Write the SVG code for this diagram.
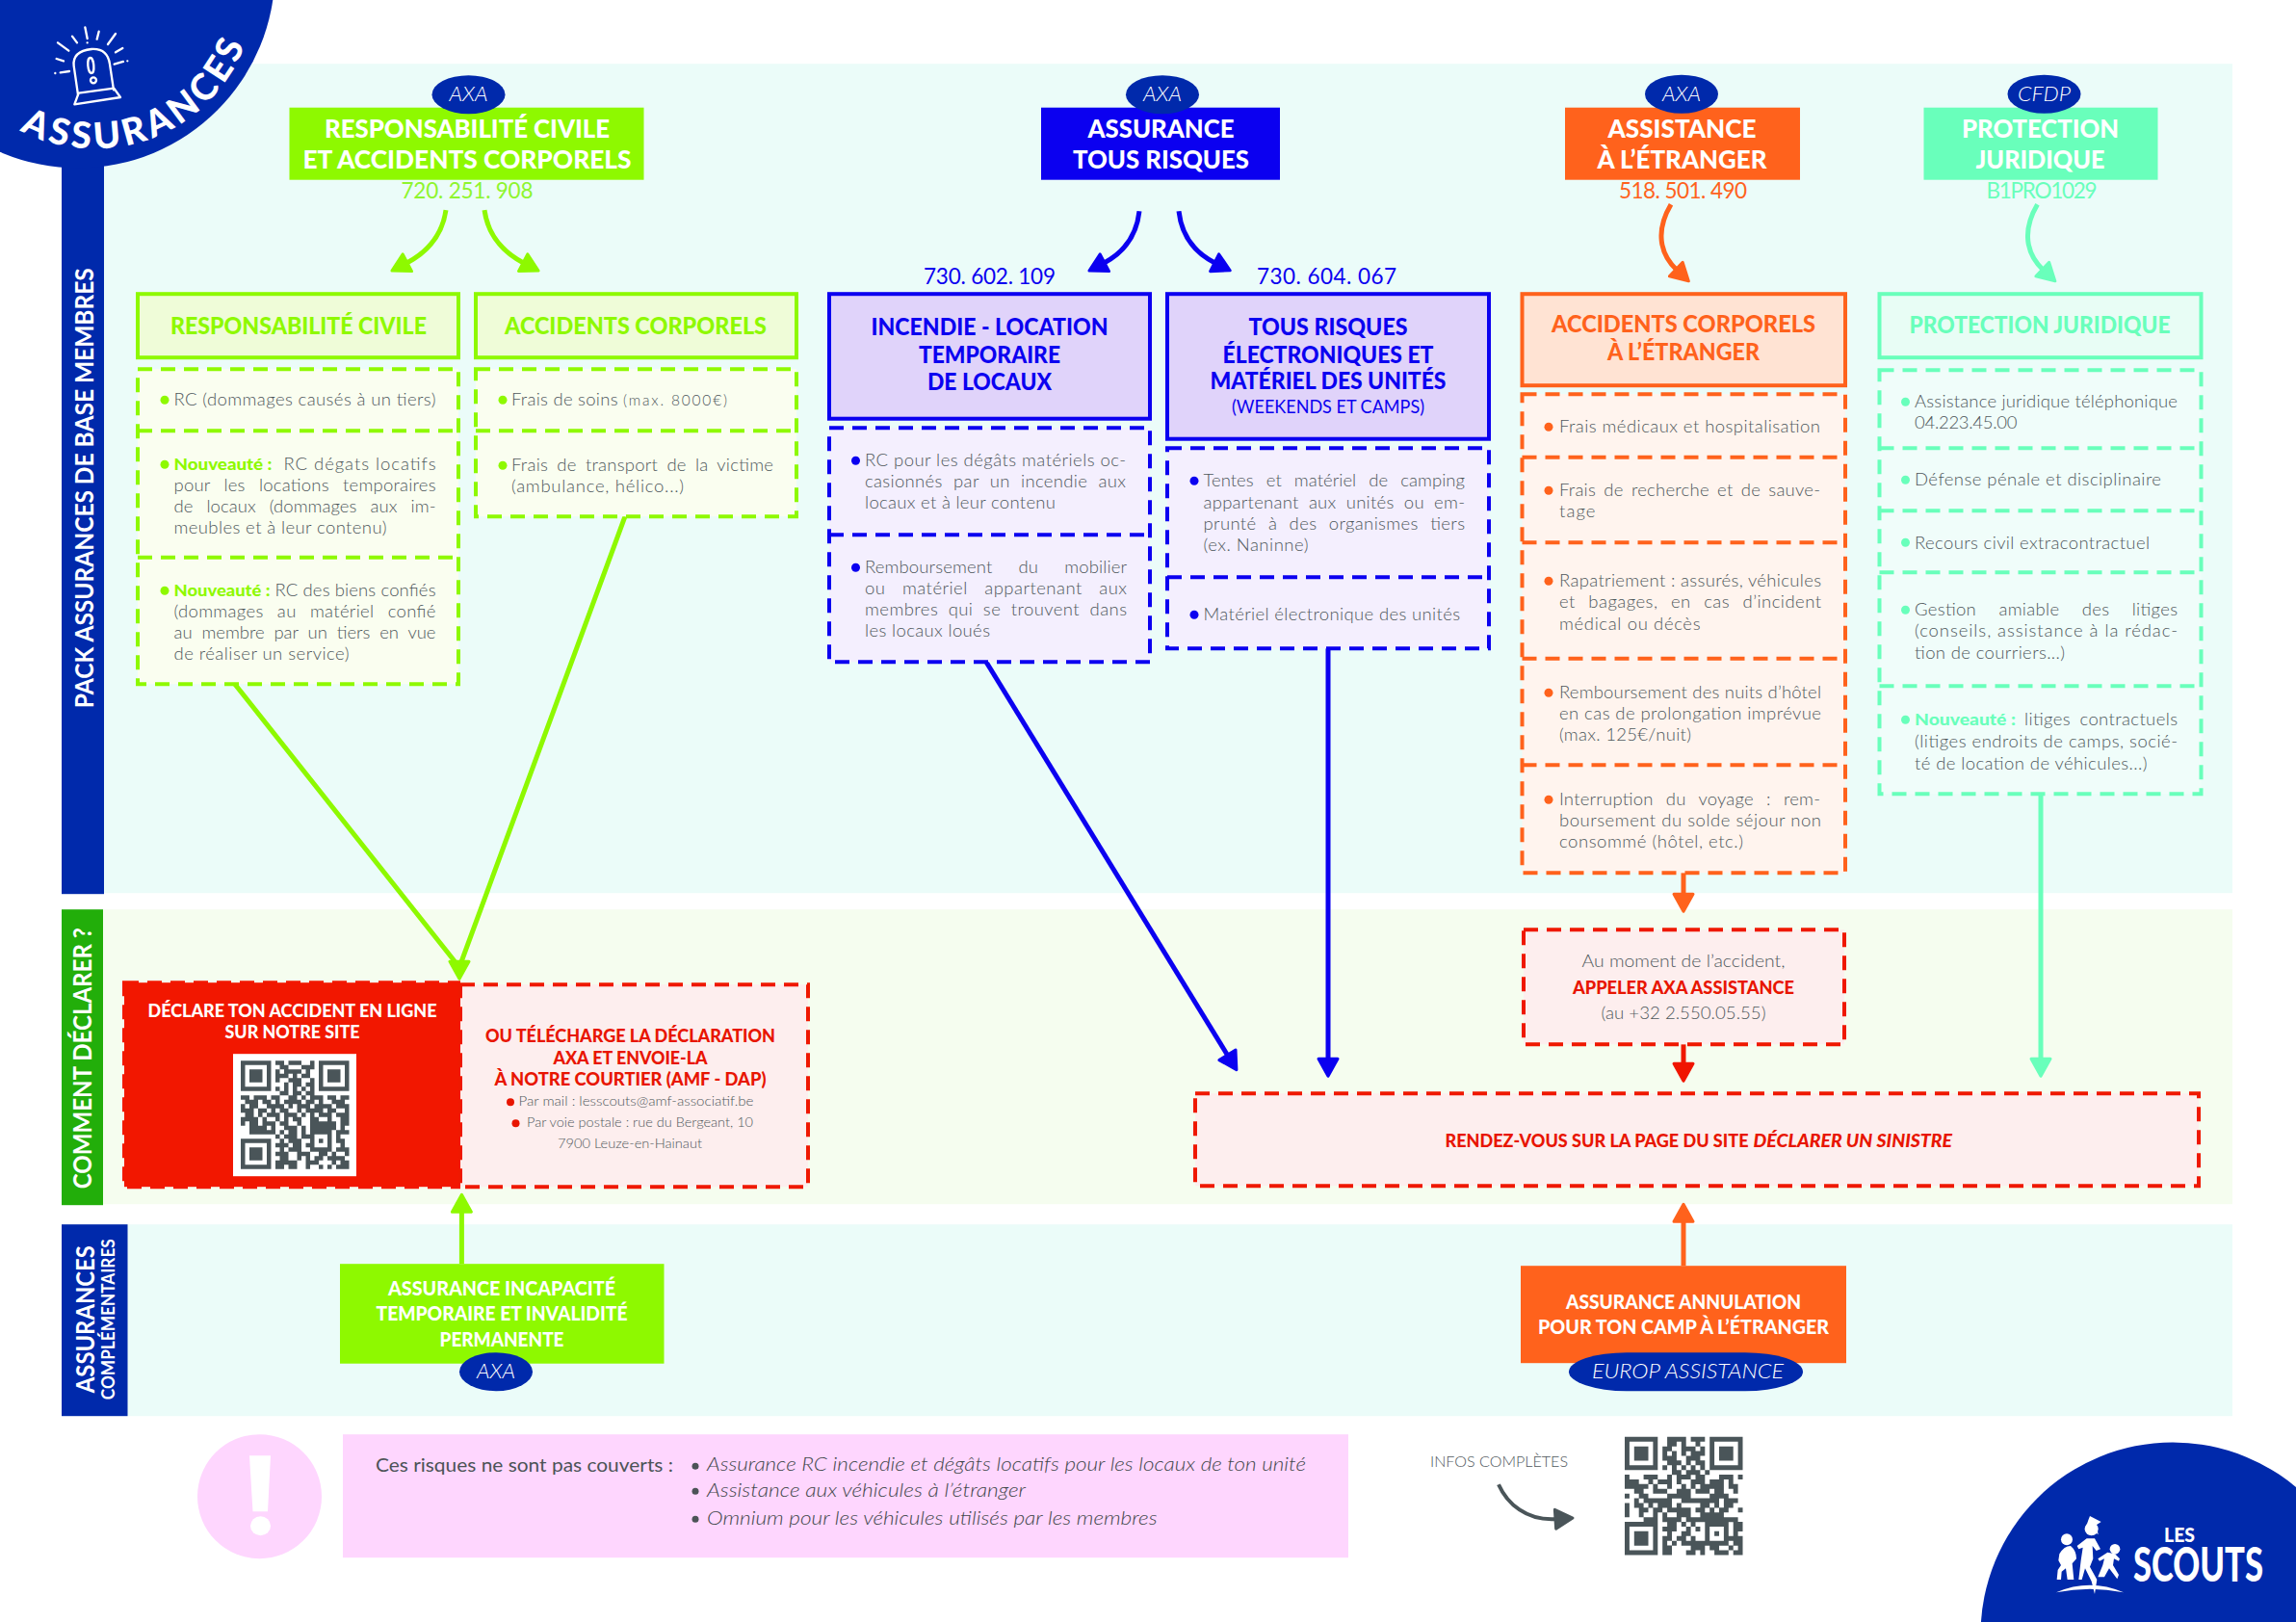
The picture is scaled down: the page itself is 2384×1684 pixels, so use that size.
<svg xmlns="http://www.w3.org/2000/svg" xmlns:xlink="http://www.w3.org/1999/xlink" width="2384" height="1684" viewBox="0 0 2384 1684">
<style>
text{font-family:Lato,"Liberation Sans",sans-serif}
.b{font-size:18.5px;font-weight:300;fill:#4f585c}
.bb{font-size:17.5px;font-weight:900}
.h{font-size:27px;font-weight:900;fill:#fff;text-anchor:middle;transform:translateY(-1.2px)}
.s{font-size:24px;font-weight:900;text-anchor:middle;transform:translateY(-1px)}
.n{font-size:22.5px;font-weight:400;text-anchor:middle}
.p{font-size:21px;font-style:italic;font-weight:300;fill:#fff;text-anchor:middle}
.v{font-size:27px;font-weight:700;fill:#fff}
.c{font-size:18.5px;font-weight:900;text-anchor:middle}
.e{font-size:14.5px;font-weight:300;fill:#4f585c}
.m{font-size:20px;fill:#4c5357}
.mi{font-size:20px;font-style:italic;font-weight:300;fill:#3f464a}
.pill{fill:#0029ab}
.g{fill:#8ef900}
.bl{fill:#0b00f0}.o{fill:#ff621c}.mt{fill:#69ffbb}.r{fill:#e81500}
.dash{stroke-width:4;stroke-dasharray:15 9;fill:none}
.solid{stroke-width:4}
.gl{stroke:#8ef900}.bll{stroke:#0b00f0}.ol{stroke:#ff621c}.ml{stroke:#69ffbb}.rl{stroke:#ef1800}
.cn{fill:none;stroke-width:5}
.qr{fill:none;stroke:#4a5559;stroke-width:1.03}
</style>
<defs>
<marker id="a-green" markerUnits="userSpaceOnUse" markerWidth="24" markerHeight="28" viewBox="0 0 24 28" refX="3" refY="14" orient="auto"><path d="M2 4L20 14L2 24Z" fill="#8ef900" stroke="#8ef900" stroke-width="3" stroke-linejoin="round"/></marker>
<marker id="a-blue" markerUnits="userSpaceOnUse" markerWidth="24" markerHeight="28" viewBox="0 0 24 28" refX="3" refY="14" orient="auto"><path d="M2 4L20 14L2 24Z" fill="#0b00f0" stroke="#0b00f0" stroke-width="3" stroke-linejoin="round"/></marker>
<marker id="a-orange" markerUnits="userSpaceOnUse" markerWidth="24" markerHeight="28" viewBox="0 0 24 28" refX="3" refY="14" orient="auto"><path d="M2 4L20 14L2 24Z" fill="#ff621c" stroke="#ff621c" stroke-width="3" stroke-linejoin="round"/></marker>
<marker id="a-mint" markerUnits="userSpaceOnUse" markerWidth="24" markerHeight="28" viewBox="0 0 24 28" refX="3" refY="14" orient="auto"><path d="M2 4L20 14L2 24Z" fill="#69ffbb" stroke="#69ffbb" stroke-width="3" stroke-linejoin="round"/></marker>
<marker id="a-red" markerUnits="userSpaceOnUse" markerWidth="24" markerHeight="28" viewBox="0 0 24 28" refX="3" refY="14" orient="auto"><path d="M2 4L20 14L2 24Z" fill="#f01500" stroke="#f01500" stroke-width="3" stroke-linejoin="round"/></marker>
<marker id="a-grey" markerUnits="userSpaceOnUse" markerWidth="24" markerHeight="28" viewBox="0 0 24 28" refX="3" refY="14" orient="auto"><path d="M2 4L20 14L2 24Z" fill="#4a5559" stroke="#4a5559" stroke-width="3" stroke-linejoin="round"/></marker>
<path id="arc" d="M5 126A167 167 0 0 0 262 20"/>
<path id="qr1" class="qr" d="M0 .5h7M8 .5h2M11 .5h3M16 .5h1M18 .5h7M0 1.5h1M6 1.5h1M9 1.5h2M14 1.5h3M18 1.5h1M24 1.5h1M0 2.5h1M2 2.5h3M6 2.5h1M8 2.5h1M10 2.5h4M15 2.5h1M18 2.5h1M20 2.5h3M24 2.5h1M0 3.5h1M2 3.5h3M6 3.5h1M8 3.5h3M12 3.5h1M14 3.5h2M18 3.5h1M20 3.5h3M24 3.5h1M0 4.5h1M2 4.5h3M6 4.5h1M8 4.5h1M11 4.5h3M16 4.5h1M18 4.5h1M20 4.5h3M24 4.5h1M0 5.5h1M6 5.5h1M10 5.5h1M12 5.5h2M15 5.5h2M18 5.5h1M24 5.5h1M0 6.5h7M8 6.5h1M10 6.5h1M12 6.5h1M14 6.5h1M16 6.5h1M18 6.5h7M9 7.5h2M12 7.5h2M15 7.5h2M0 8.5h2M3 8.5h3M7 8.5h2M11 8.5h2M14 8.5h1M16 8.5h3M20 8.5h2M23 8.5h2M1 9.5h3M5 9.5h2M8 9.5h1M10 9.5h4M15 9.5h2M18 9.5h1M21 9.5h3M0 10.5h1M2 10.5h2M6 10.5h4M11 10.5h1M13 10.5h3M17 10.5h4M22 10.5h3M0 11.5h3M4 11.5h2M7 11.5h1M9 11.5h2M13 11.5h1M15 11.5h4M20 11.5h2M24 11.5h1M1 12.5h2M4 12.5h1M6 12.5h3M10 12.5h3M14 12.5h1M16 12.5h1M18 12.5h3M22 12.5h3M0 13.5h4M5 13.5h1M8 13.5h1M10 13.5h1M12 13.5h2M16 13.5h2M20 13.5h1M23 13.5h2M0 14.5h1M2 14.5h2M5 14.5h3M9 14.5h2M13 14.5h1M16 14.5h6M23 14.5h2M2 15.5h4M7 15.5h1M10 15.5h3M14 15.5h1M16 15.5h6M23 15.5h1M2 16.5h6M9 16.5h1M11 16.5h2M14 16.5h1M16 16.5h5M22 16.5h3M8 17.5h1M10 17.5h3M14 17.5h3M20 17.5h1M22 17.5h1M0 18.5h7M9 18.5h1M11 18.5h3M16 18.5h1M18 18.5h1M20 18.5h1M22 18.5h2M0 19.5h1M6 19.5h1M8 19.5h3M12 19.5h2M15 19.5h2M20 19.5h1M23 19.5h1M0 20.5h1M2 20.5h3M6 20.5h1M9 20.5h1M11 20.5h3M16 20.5h5M22 20.5h3M0 21.5h1M2 21.5h3M6 21.5h1M8 21.5h3M13 21.5h3M18 21.5h2M21 21.5h1M24 21.5h1M0 22.5h1M2 22.5h3M6 22.5h1M9 22.5h2M13 22.5h1M15 22.5h1M17 22.5h2M20 22.5h3M23 22.5h1M0 23.5h1M6 23.5h1M8 23.5h5M15 23.5h3M21 23.5h1M23 23.5h2M0 24.5h7M8 24.5h2M11 24.5h2M15 24.5h1M18 24.5h1M20 24.5h1M22 24.5h3"/>
<path id="qr2" class="qr" d="M0 .5h7M9 .5h4M14 .5h2M16 .5h1M18 .5h7M0 1.5h1M6 1.5h1M9 1.5h2M12 1.5h1M15 1.5h1M18 1.5h1M24 1.5h1M0 2.5h1M2 2.5h3M6 2.5h1M8 2.5h2M12 2.5h3M16 2.5h1M18 2.5h1M20 2.5h3M24 2.5h1M0 3.5h1M2 3.5h3M6 3.5h1M8 3.5h1M10 3.5h1M12 3.5h1M14 3.5h3M18 3.5h1M20 3.5h3M24 3.5h1M0 4.5h1M2 4.5h3M6 4.5h1M8 4.5h3M13 4.5h3M18 4.5h1M20 4.5h3M24 4.5h1M0 5.5h1M6 5.5h1M9 5.5h3M13 5.5h1M15 5.5h2M18 5.5h1M24 5.5h1M0 6.5h7M8 6.5h1M10 6.5h1M12 6.5h1M14 6.5h1M16 6.5h1M18 6.5h7M10 7.5h2M13 7.5h2M15 7.5h1M17 7.5h1M0 8.5h1M4 8.5h3M9 8.5h1M11 8.5h3M15 8.5h2M20 8.5h3M24 8.5h1M0 9.5h3M5 9.5h1M7 9.5h3M11 9.5h1M14 9.5h3M18 9.5h3M22 9.5h1M0 10.5h5M6 10.5h1M9 10.5h1M12 10.5h1M14 10.5h1M16 10.5h5M22 10.5h2M2 11.5h2M6 11.5h3M11 11.5h3M15 11.5h3M19 11.5h2M23 11.5h1M0 12.5h1M3 12.5h2M9 12.5h4M13 12.5h1M18 12.5h3M21 12.5h1M2 13.5h1M4 13.5h6M12 13.5h3M15 13.5h5M21 13.5h3M0 14.5h1M2 14.5h2M5 14.5h1M7 14.5h3M11 14.5h1M16 14.5h2M19 14.5h1M21 14.5h2M0 15.5h1M3 15.5h2M6 15.5h2M9 15.5h5M15 15.5h2M18 15.5h1M20 15.5h2M24 15.5h1M0 16.5h1M3 16.5h1M6 16.5h1M8 16.5h1M11 16.5h3M16 16.5h5M4 17.5h3M8 17.5h4M13 17.5h3M16 17.5h8M0 18.5h7M9 18.5h2M12 18.5h1M14 18.5h1M17 18.5h5M23 18.5h2M0 19.5h1M6 19.5h1M8 19.5h3M13 19.5h1M15 19.5h1M17 19.5h1M21 19.5h1M23 19.5h2M0 20.5h1M2 20.5h3M6 20.5h1M9 20.5h1M12 20.5h2M17 20.5h1M19 20.5h1M21 20.5h1M23 20.5h1M0 21.5h1M2 21.5h3M6 21.5h1M8 21.5h2M11 21.5h2M14 21.5h1M17 21.5h1M21 21.5h4M0 22.5h1M2 22.5h3M6 22.5h1M8 22.5h1M10 22.5h1M12 22.5h5M17 22.5h5M23 22.5h2M0 23.5h1M6 23.5h1M8 23.5h2M14 23.5h3M18 23.5h2M22 23.5h1M24 23.5h1M0 24.5h7M8 24.5h2M13 24.5h2M16 24.5h1M19 24.5h3M23 24.5h2"/>
</defs>
<rect width="2384" height="1684" fill="#fff"/>
<g transform="translate(0 1.2)">
<g id="bands">
<rect x="108" y="65" width="2210" height="861" fill="#ebfcf9"/>
<rect x="107" y="943" width="2211" height="306" fill="#f5fdef"/>
<rect x="132" y="1270" width="2186" height="199" fill="#ebfcf9"/>
</g>
<g id="side-pack"><rect x="64" y="150" width="44" height="777" fill="#0029ab"/><text class="v" transform="translate(96.5 734) rotate(-90)" textLength="457" lengthAdjust="spacingAndGlyphs">PACK ASSURANCES DE BASE MEMBRES</text></g>
<g id="side-declarer"><rect x="64" y="943" width="43" height="307" fill="#22ae0a"/><text class="v" transform="translate(94.7 1233) rotate(-90)" textLength="271" lengthAdjust="spacingAndGlyphs">COMMENT DÉCLARER ?</text></g>
<g id="side-compl"><rect x="64" y="1270" width="68.5" height="199" fill="#0029ab"/><text class="v" transform="translate(98 1445) rotate(-90)" textLength="153" lengthAdjust="spacingAndGlyphs">ASSURANCES</text><text class="v" style="font-size:18px" transform="translate(118.7 1452) rotate(-90)" textLength="167" lengthAdjust="spacingAndGlyphs">COMPLÉMENTAIRES</text></g>
<g id="connectors">
<path class="cn gl" d="M463 217C459 245 441 262 422 272" marker-end="url(#a-green)"/>
<path class="cn gl" d="M503 217C507 245 525 262 544 272" marker-end="url(#a-green)"/>
<path class="cn bll" d="M1183 218C1180 245 1165 262 1146 272" marker-end="url(#a-blue)"/>
<path class="cn bll" d="M1224 218C1227 245 1242 262 1262 272" marker-end="url(#a-blue)"/>
<path class="cn ol" d="M1735 211C1719 238 1723 262 1741 279" marker-end="url(#a-orange)"/>
<path class="cn ml" d="M2115.5 211C2099.5 238 2103.5 262 2121.5 279" marker-end="url(#a-mint)"/>
<path class="cn gl" d="M243 708L477 1003M649 535L477 1003"/>
<path class="cn gl" d="M477 996L477 998" marker-end="url(#a-green)"/>
<path class="cn bll" d="M1024 686L1275 1095" marker-end="url(#a-blue)"/>
<path class="cn bll" d="M1379 672V1099" marker-end="url(#a-blue)"/>
<path class="cn ml" d="M2119 823V1099" marker-end="url(#a-mint)"/>
<path class="cn ol" d="M1748 905V928" marker-end="url(#a-orange)"/>
<path class="cn rl" d="M1748 1083V1104" marker-end="url(#a-red)"/>
<path class="cn gl" d="M479.4 1311V1256" marker-end="url(#a-green)"/>
<path class="cn ol" d="M1748 1313V1266" marker-end="url(#a-orange)"/>
<path d="M1556 1540C1565 1560 1585 1578 1616 1576" fill="none" stroke="#4a5559" stroke-width="4" marker-end="url(#a-grey)"/>
</g>
<g id="head-rc">
<rect class="g" x="300.5" y="110.5" width="368" height="75"/>
<ellipse class="pill" cx="486.5" cy="97" rx="38" ry="20"/><text class="p" x="486.5" y="104" textLength="40" lengthAdjust="spacingAndGlyphs">AXA</text>
<text class="h" x="485" y="142.5" textLength="296" lengthAdjust="spacingAndGlyphs">RESPONSABILITÉ CIVILE</text>
<text class="h" x="485" y="174.5" textLength="341" lengthAdjust="spacingAndGlyphs">ET ACCIDENTS CORPORELS</text>
<text class="n" x="485" y="205" fill="#8ef52e" textLength="137">720. 251. 908</text>
</g>
<g id="head-tr">
<rect class="bl" x="1081" y="110.5" width="248" height="75"/>
<ellipse class="pill" cx="1207" cy="97" rx="38" ry="20"/><text class="p" x="1207" y="104" textLength="40" lengthAdjust="spacingAndGlyphs">AXA</text>
<text class="h" x="1205.5" y="142.5" textLength="152" lengthAdjust="spacingAndGlyphs">ASSURANCE</text>
<text class="h" x="1205.5" y="174.5" textLength="183" lengthAdjust="spacingAndGlyphs">TOUS RISQUES</text>
<text class="n" x="1027.5" y="293.5" fill="#0b00f0" textLength="137">730. 602. 109</text>
<text class="n" x="1377.5" y="293.5" fill="#0b00f0" textLength="145">730. 604. 067</text>
</g>
<g id="head-et" transform="translate(-1 0)">
<rect class="o" x="1626" y="110.5" width="244" height="75"/>
<ellipse class="pill" cx="1747" cy="96.5" rx="38" ry="20"/><text class="p" x="1747" y="104" textLength="40" lengthAdjust="spacingAndGlyphs">AXA</text>
<text class="h" x="1747.5" y="143" textLength="154" lengthAdjust="spacingAndGlyphs">ASSISTANCE</text>
<text class="h" x="1747.5" y="175" textLength="176" lengthAdjust="spacingAndGlyphs">À L’ÉTRANGER</text>
<text class="n" x="1748.5" y="205" fill="#ff621c" textLength="133">518. 501. 490</text>
</g>
<g id="head-pj" transform="translate(-2.5 0)">
<rect class="mt" x="2000" y="110.5" width="243" height="75"/>
<ellipse class="pill" cx="2125" cy="96.5" rx="38" ry="20"/><text class="p" x="2125" y="104" textLength="55" lengthAdjust="spacingAndGlyphs">CFDP</text>
<text class="h" x="2121" y="143" textLength="163" lengthAdjust="spacingAndGlyphs">PROTECTION</text>
<text class="h" x="2121" y="175" textLength="134" lengthAdjust="spacingAndGlyphs">JURIDIQUE</text>
<text class="n" x="2122.5" y="205" fill="#69ffbb" textLength="115">B1PRO1029</text>
</g>
<g id="n-rc">
<rect class="solid gl" x="143" y="304" width="333" height="66" fill="#effcd8"/>
<text class="s g" x="310" y="346.5" textLength="266" lengthAdjust="spacingAndGlyphs">RESPONSABILITÉ CIVILE</text>
<rect x="143" y="382" width="333" height="327" fill="#fafef0"/><rect class="dash gl" x="143" y="382" width="333" height="327"/><path class="dash gl" d="M143 446H476M143 577.5H476"/>
<g class="g"><circle cx="171" cy="414" r="4.5"/><circle cx="171" cy="481" r="4.5"/><circle cx="171" cy="612" r="4.5"/></g>
<text class="b" x="180.5" y="420" textLength="272">RC (dommages causés à un tiers)</text>
<text class="bb g" x="180.5" y="486.7" textLength="102" lengthAdjust="spacingAndGlyphs">Nouveauté :</text><text class="b" x="294.5" y="486.7" textLength="158">RC dégats locatifs</text>
<text class="b" style="word-spacing:9px" x="180.5" y="508.7" textLength="272">pour les locations temporaires</text>
<text class="b" style="word-spacing:9px" x="180.5" y="530.7" textLength="272">de locaux (dommages aux im-</text>
<text class="b" x="180.5" y="552.7" textLength="221">meubles et à leur contenu)</text>
<text class="bb g" x="180.5" y="617.5" textLength="100" lengthAdjust="spacingAndGlyphs">Nouveauté :</text><text class="b" x="285.5" y="617.5" textLength="167">RC des biens confiés</text>
<text class="b" style="word-spacing:9px" x="180.5" y="640" textLength="272">(dommages au matériel confié</text>
<text class="b" style="word-spacing:5px" x="180.5" y="662" textLength="272">au membre par un tiers en vue</text>
<text class="b" x="180.5" y="684" textLength="182">de réaliser un service)</text>
</g>
<g id="n-ac">
<rect class="solid gl" x="494" y="304" width="333" height="66" fill="#effcd8"/>
<text class="s g" x="660" y="346.5" textLength="272" lengthAdjust="spacingAndGlyphs">ACCIDENTS CORPORELS</text>
<rect x="494" y="382" width="333" height="153" fill="#fafef0"/><rect class="dash gl" x="494" y="382" width="333" height="153"/><path class="dash gl" d="M494 446H827"/>
<g class="g"><circle cx="522" cy="414" r="4.5"/><circle cx="522" cy="482" r="4.5"/></g>
<text class="b" x="531" y="420" textLength="110.5">Frais de soins</text><text class="b" style="font-size:15.5px" x="647" y="420" textLength="108">(max. 8000€)</text>
<text class="b" style="word-spacing:4px" x="531" y="487.6" textLength="272">Frais de transport de la victime</text>
<text class="b" x="531" y="509.6" textLength="179">(ambulance, hélico...)</text>
</g>
<g id="n-incendie">
<rect class="solid bll" x="861" y="304" width="333" height="129.5" fill="#e0d3fa"/>
<text class="s bl" x="1027.5" y="348" textLength="246" lengthAdjust="spacingAndGlyphs">INCENDIE - LOCATION</text>
<text class="s bl" x="1027.5" y="376.5" textLength="147" lengthAdjust="spacingAndGlyphs">TEMPORAIRE</text>
<text class="s bl" x="1027.5" y="405" textLength="129" lengthAdjust="spacingAndGlyphs">DE LOCAUX</text>
<rect x="861" y="443" width="333" height="243" fill="#f4effe"/><rect class="dash bll" x="861" y="443" width="333" height="243"/><path class="dash bll" d="M861 554H1194"/>
<g class="bl"><circle cx="888.5" cy="477" r="4.5"/><circle cx="888.5" cy="588" r="4.5"/></g>
<text class="b" x="898" y="483" textLength="271">RC pour les dégâts matériels oc-</text>
<text class="b" style="word-spacing:6px" x="898" y="505" textLength="271">casionnés par un incendie aux</text>
<text class="b" x="898" y="527" textLength="198">locaux et à leur contenu</text>
<text class="b" style="word-spacing:22px" x="898" y="593.7" textLength="272">Remboursement du mobilier</text>
<text class="b" style="word-spacing:12px" x="898" y="615.7" textLength="272">ou matériel appartenant aux</text>
<text class="b" style="word-spacing:5px" x="898" y="638" textLength="272">membres qui se trouvent dans</text>
<text class="b" x="898" y="660" textLength="130">les locaux loués</text>
</g>
<g id="n-tousrisques">
<rect class="solid bll" x="1212" y="304" width="334" height="150.5" fill="#e0d3fa"/>
<text class="s bl" x="1379" y="348" textLength="165" lengthAdjust="spacingAndGlyphs">TOUS RISQUES</text>
<text class="s bl" x="1379" y="376.5" textLength="219" lengthAdjust="spacingAndGlyphs">ÉLECTRONIQUES ET</text>
<text class="s bl" x="1379" y="404" textLength="245" lengthAdjust="spacingAndGlyphs">MATÉRIEL DES UNITÉS</text>
<text class="bl" style="font-size:19px;text-anchor:middle" x="1379" y="428" textLength="200" lengthAdjust="spacingAndGlyphs">(WEEKENDS ET CAMPS)</text>
<rect x="1212" y="464" width="334" height="208" fill="#f4effe"/><rect class="dash bll" x="1212" y="464" width="334" height="208"/><path class="dash bll" d="M1212 598H1546"/>
<g class="bl"><circle cx="1240" cy="498" r="4.5"/><circle cx="1240" cy="637" r="4.5"/></g>
<text class="b" style="word-spacing:8px" x="1249.5" y="504" textLength="271.5">Tentes et matériel de camping</text>
<text class="b" style="word-spacing:5px" x="1249.5" y="527" textLength="271.5">appartenant aux unités ou em-</text>
<text class="b" style="word-spacing:7px" x="1249.5" y="549" textLength="271.5">prunté à des organismes tiers</text>
<text class="b" x="1249.5" y="571" textLength="109">(ex. Naninne)</text>
<text class="b" x="1249.5" y="643" textLength="266.5">Matériel électronique des unités</text>
</g>
<g id="n-etranger" transform="translate(-1 0)">
<rect class="solid ol" x="1581.5" y="304" width="335.5" height="95" fill="#ffe3d3"/>
<text class="s o" x="1749" y="345" textLength="274" lengthAdjust="spacingAndGlyphs">ACCIDENTS CORPORELS</text>
<text class="s o" x="1749" y="374" textLength="158" lengthAdjust="spacingAndGlyphs">À L’ÉTRANGER</text>
<rect x="1581.5" y="408" width="335.5" height="497" fill="#fff4ee"/><rect class="dash ol" x="1581.5" y="408" width="335.5" height="497"/><path class="dash ol" d="M1581.5 473.5H1917M1581.5 562H1917M1581.5 682.5H1917M1581.5 793H1917"/>
<g class="o"><circle cx="1609" cy="442" r="4.5"/><circle cx="1609" cy="508" r="4.5"/><circle cx="1609" cy="602" r="4.5"/><circle cx="1609" cy="718" r="4.5"/><circle cx="1609" cy="829" r="4.5"/></g>
<text class="b" x="1620" y="448" textLength="271">Frais médicaux et hospitalisation</text>
<text class="b" style="word-spacing:3px" x="1620" y="514" textLength="271">Frais de recherche et de sauve-</text>
<text class="b" x="1620" y="536" textLength="37.5">tage</text>
<text class="b" x="1620" y="607.4" textLength="272">Rapatriement : assurés, véhicules</text>
<text class="b" style="word-spacing:8px" x="1620" y="629.4" textLength="272">et bagages, en cas d’incident</text>
<text class="b" x="1620" y="652.4" textLength="146.5">médical ou décès</text>
<text class="b" x="1620" y="723.7" textLength="272">Remboursement des nuits d’hôtel</text>
<text class="b" x="1620" y="745.7" textLength="272">en cas de prolongation imprévue</text>
<text class="b" x="1620" y="767.6" textLength="137">(max. 125€/nuit)</text>
<text class="b" style="word-spacing:8px" x="1620" y="834.5" textLength="271">Interruption du voyage : rem-</text>
<text class="b" x="1620" y="856.5" textLength="272">boursement du solde séjour non</text>
<text class="b" x="1620" y="879" textLength="191">consommé (hôtel, etc.)</text>
</g>
<g id="n-juridique" transform="translate(-2.5 0)">
<rect class="solid ml" x="1954" y="304" width="334" height="66" fill="#e8fdf5"/>
<text class="s mt" x="2120.5" y="346" textLength="271" lengthAdjust="spacingAndGlyphs">PROTECTION JURIDIQUE</text>
<rect x="1954" y="383" width="334" height="440" fill="#f0fdfa"/><rect class="dash ml" x="1954" y="383" width="334" height="440"/><path class="dash ml" d="M1954 464H2288M1954 529H2288M1954 593H2288M1954 711H2288"/>
<g class="mt"><circle cx="1981" cy="416" r="4.5"/><circle cx="1981" cy="497" r="4.5"/><circle cx="1981" cy="562" r="4.5"/><circle cx="1981" cy="632" r="4.5"/><circle cx="1981" cy="746" r="4.5"/></g>
<text class="b" x="1990.5" y="422" textLength="273">Assistance juridique téléphonique</text>
<text class="b" x="1990.5" y="444" textLength="106.5">04.223.45.00</text>
<text class="b" x="1990.5" y="503" textLength="256">Défense pénale et disciplinaire</text>
<text class="b" x="1990.5" y="568.5" textLength="244">Recours civil extracontractuel</text>
<text class="b" style="word-spacing:18px" x="1990.5" y="637.6" textLength="273">Gestion amiable des litiges</text>
<text class="b" x="1990.5" y="659.6" textLength="273">(conseils, assistance à la rédac-</text>
<text class="b" x="1990.5" y="682.6" textLength="156">tion de courriers...)</text>
<text class="bb mt" x="1990.5" y="752" textLength="105" lengthAdjust="spacingAndGlyphs">Nouveauté :</text><text class="b" style="word-spacing:4px" x="2104.5" y="752" textLength="159">litiges contractuels</text>
<text class="b" x="1990.5" y="775" textLength="273">(litiges endroits de camps, socié-</text>
<text class="b" x="1990.5" y="798" textLength="241.5">té de location de véhicules...)</text>
</g>
<g id="n-declare">
<rect class="dash" style="stroke:#f21700;fill:#f21700" x="129" y="1019" width="347" height="212"/>
<text class="c" fill="#fff" x="303.5" y="1055" textLength="300" lengthAdjust="spacingAndGlyphs">DÉCLARE TON ACCIDENT EN LIGNE</text>
<text class="c" fill="#fff" x="303.5" y="1076.7" textLength="140" lengthAdjust="spacingAndGlyphs">SUR NOTRE SITE</text>
<rect x="242" y="1093" width="128" height="127" fill="#fff"/>
<use href="#qr1" transform="translate(250 1100) scale(4.5)"/>
</g>
<g id="n-telecharge">
<rect x="478" y="1021" width="361" height="210" fill="#fdeeee"/><rect class="dash rl" x="478" y="1021" width="361" height="210"/>
<text class="c r" x="654.5" y="1081" textLength="301" lengthAdjust="spacingAndGlyphs">OU TÉLÉCHARGE LA DÉCLARATION</text>
<text class="c r" x="654.5" y="1104" textLength="160" lengthAdjust="spacingAndGlyphs">AXA ET ENVOIE-LA</text>
<text class="c r" x="654.5" y="1126" textLength="282" lengthAdjust="spacingAndGlyphs">À NOTRE COURTIER (AMF - DAP)</text>
<g class="r"><circle cx="530" cy="1143" r="4"/><circle cx="535.5" cy="1165" r="4"/></g>
<text class="e" x="538.5" y="1147" textLength="244" lengthAdjust="spacingAndGlyphs">Par mail : lesscouts@amf-associatif.be</text>
<text class="e" x="547" y="1169" textLength="235" lengthAdjust="spacingAndGlyphs">Par voie postale : rue du Bergeant, 10</text>
<text class="e" x="579" y="1191" textLength="150" lengthAdjust="spacingAndGlyphs">7900 Leuze-en-Hainaut</text>
</g>
<g id="n-appeler">
<rect x="1582" y="964" width="333" height="119" fill="#fdeeee"/><rect class="dash rl" x="1582" y="964" width="333" height="119"/>
<text class="b" style="text-anchor:middle;font-size:17px" x="1748" y="1003" textLength="211" lengthAdjust="spacingAndGlyphs">Au moment de l’accident,</text>
<text class="c r" x="1748" y="1031" textLength="230" lengthAdjust="spacingAndGlyphs">APPELER AXA ASSISTANCE</text>
<text class="b" style="text-anchor:middle;font-size:17px" x="1748" y="1057" textLength="171" lengthAdjust="spacingAndGlyphs">(au +32 2.550.05.55)</text>
</g>
<g id="n-sinistre">
<rect x="1241" y="1134" width="1042" height="96" fill="#fdeeee"/><rect class="dash rl" x="1241" y="1134" width="1042" height="96"/>
<text class="r" style="font-size:18.5px;font-weight:900" x="1500.5" y="1190" textLength="315" lengthAdjust="spacingAndGlyphs">RENDEZ-VOUS SUR LA PAGE DU SITE</text>
<text class="r" style="font-size:18.5px;font-weight:900;font-style:italic" x="1820.5" y="1190" textLength="206.5" lengthAdjust="spacingAndGlyphs">DÉCLARER UN SINISTRE</text>
</g>
<g id="n-incapacite">
<rect class="g" x="353" y="1311" width="336.5" height="103.5"/>
<text class="c" fill="#fff" style="font-size:20px" x="521" y="1344" textLength="236" lengthAdjust="spacingAndGlyphs">ASSURANCE INCAPACITÉ</text>
<text class="c" fill="#fff" style="font-size:20px" x="521" y="1370" textLength="261" lengthAdjust="spacingAndGlyphs">TEMPORAIRE ET INVALIDITÉ</text>
<text class="c" fill="#fff" style="font-size:20px" x="521" y="1396.7" textLength="129" lengthAdjust="spacingAndGlyphs">PERMANENTE</text>
<ellipse class="pill" cx="515" cy="1423" rx="38" ry="20"/><text class="p" x="515" y="1430" textLength="40" lengthAdjust="spacingAndGlyphs">AXA</text>
</g>
<g id="n-annulation">
<rect class="o" x="1579" y="1313" width="338" height="101"/>
<text class="c" fill="#fff" style="font-size:20px" x="1748" y="1358" textLength="244" lengthAdjust="spacingAndGlyphs">ASSURANCE ANNULATION</text>
<text class="c" fill="#fff" style="font-size:20px" x="1748" y="1384" textLength="302" lengthAdjust="spacingAndGlyphs">POUR TON CAMP À L’ÉTRANGER</text>
<rect class="pill" x="1629" y="1403" width="243" height="40" rx="60" ry="20"/><text class="p" x="1752.5" y="1430" textLength="199" lengthAdjust="spacingAndGlyphs">EUROP ASSISTANCE</text>
</g>
<g id="warning">
<circle cx="269.5" cy="1552.5" r="64.5" fill="#fed6fe"/>
<path d="M259 1510H281L278 1568H262.5Z" fill="#fff"/><ellipse cx="270.5" cy="1583" rx="10.5" ry="10" fill="#fff"/>
<rect x="356" y="1488" width="1044" height="128" fill="#fed6fe"/>
<text class="m" x="390" y="1526.5" textLength="309" lengthAdjust="spacingAndGlyphs">Ces risques ne sont pas couverts :</text>
<g fill="#4c5357"><circle cx="722" cy="1521" r="3.5"/><circle cx="722" cy="1547" r="3.5"/><circle cx="722" cy="1576" r="3.5"/></g>
<text class="mi" x="734" y="1526" textLength="622" lengthAdjust="spacingAndGlyphs">Assurance RC incendie et dégâts locatifs pour les locaux de ton unité</text>
<text class="mi" x="734" y="1552.7" textLength="331" lengthAdjust="spacingAndGlyphs">Assistance aux véhicules à l’étranger</text>
<text class="mi" x="734" y="1581.7" textLength="467.5" lengthAdjust="spacingAndGlyphs">Omnium pour les véhicules utilisés par les membres</text>
</g>
<g id="infos">
<text x="1485" y="1521.7" style="font-size:15px;font-weight:300" fill="#4f585c" textLength="143" lengthAdjust="spacingAndGlyphs">INFOS COMPLÈTES</text>
<use href="#qr2" transform="translate(1687 1490.7) scale(4.9)"/>
</g>
</g>
<g id="badge">
<circle cx="81" cy="-30" r="204.5" fill="#0029ab"/>
<g transform="scale(.3333)" fill="none" stroke="#fff" stroke-width="7" stroke-linecap="round" stroke-linejoin="round">
<path d="M243 295L230 205Q225 160 285 153Q335 150 342 200L354 280"/><path d="M232 325L245 290L355 275L375 303Z"/>
<ellipse cx="283" cy="204" rx="9" ry="24" transform="rotate(-5 283 204)"/><circle cx="291" cy="250" r="9"/>
<path d="M265 85L272 120M225 113L240 133M180 133L214 158M176 183L198 190M188 226L216 222M308 98L302 122M360 105L336 138M382 150L360 163M384 192L356 200M272 133v.1M172 228v.1M397 190v.1"/>
</g>
<text style="font-size:38px;font-weight:900" fill="#fff"><textPath xlink:href="#arc" href="#arc" startOffset="18" textLength="282" lengthAdjust="spacing">ASSURANCES</textPath></text>
</g>
<g id="logo">
<circle cx="2256" cy="1697" r="199.5" fill="#0029ab"/>
<g transform="translate(2120 1560) scale(.3333)" fill="#fff">
<path d="M45 280Q150 235 255 280Q150 258 45 280Z"/>
<circle cx="78" cy="115" r="18"/><path d="M55 160Q70 135 90 135Q108 150 108 175L95 190L100 240L80 240L75 205L62 215L60 240L47 240L50 210L60 195L52 180Z"/>
<circle cx="155" cy="82" r="21"/><path d="M130 98L145 55L150 42L185 60L170 70L176 100L165 90L135 85ZM110 135L140 112L165 112L183 145L170 150L158 135L160 175L150 200L172 240L165 285L155 245L135 205L125 240L115 240L122 180L128 140L115 145Z"/>
<circle cx="228" cy="145" r="16"/><path d="M175 175L205 155L228 160L243 175L240 182L225 175L222 195L240 225L235 238L210 205L195 232L175 232L190 195L195 175L180 182Z"/>
</g>
<text x="2247" y="1601" style="font-size:21px;font-weight:900" fill="#fff" textLength="32" lengthAdjust="spacingAndGlyphs">LES</text>
<text transform="translate(2215 1642) scale(1 1.35)" style="font-size:36px;font-weight:900" fill="#fff" textLength="135" lengthAdjust="spacingAndGlyphs">SCOUTS</text>
</g>
</svg>
